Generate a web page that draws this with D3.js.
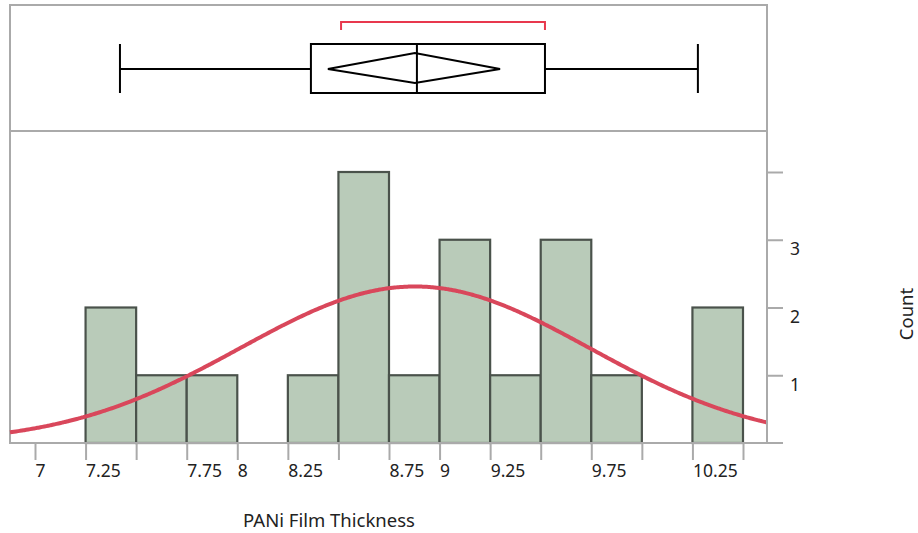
<!DOCTYPE html>
<html>
<head>
<meta charset="utf-8">
<script src="https://cdn.jsdelivr.net/npm/d3@7"></script>
<style>
body { margin: 0; background: #fff; }
text { font-family: "Noto Sans", "Open Sans", sans-serif; fill: #222; }
</style>
</head>
<body>
<script>
// histogram bins (left edges, width 0.25) and counts
var binStarts = [7.25, 7.5, 7.75, 8, 8.25, 8.5, 8.75, 9, 9.25, 9.5, 9.75, 10, 10.25];
var binCounts = [2, 1, 1, 0, 1, 4, 1, 3, 1, 3, 1, 0, 2];
var binWidth = 0.25;

// x ticks and which ones carry a label
var xTicks = [7, 7.25, 7.5, 7.75, 8, 8.25, 8.5, 8.75, 9, 9.25, 9.5, 9.75, 10, 10.25, 10.5];
var xLabels = ["7", "7.25", "", "7.75", "8", "8.25", "", "8.75", "9", "9.25", "", "9.75", "", "10.25", ""];
var yTicks = [1, 2, 3, 4];
var yLabels = ["1", "2", "3", ""];

// box plot: min, q1, median, q3, max
var boxStats = [7.42, 8.364, 8.888, 9.521, 10.277];
// mean diamond: lower CI, mean, upper CI
var meanDiamond = [8.448, 8.878, 9.299];
// shortest half bracket
var shortestHalf = [8.513, 9.521];

// normal fit
var fitMean = 8.878, fitSd = 0.8635, nObs = 20;

var width = 918, height = 533;
var svg = d3.select("body").append("svg")
	.attr("width", width)
	.attr("height", height);

var x = d3.scaleLinear()
	.domain([7, 10.5])
	.range([35, 743]);

var y = d3.scaleLinear()
	.domain([0, 4])
	.range([443, 172]);

var left = 10, right = 767, topBox = 5, midLine = 131, bottom = 443;
var frameColor = "#aaaaaa";

// box panel frame
svg.append("rect")
	.attr("x", left).attr("y", topBox)
	.attr("width", right - left).attr("height", midLine - topBox)
	.attr("fill", "none").attr("stroke", frameColor).attr("stroke-width", 2);

// histogram panel left border
svg.append("line")
	.attr("x1", left).attr("x2", left).attr("y1", midLine).attr("y2", bottom)
	.attr("stroke", frameColor).attr("stroke-width", 2);

// bars
svg.selectAll("rect.bar")
	.data(binStarts)
	.enter()
	.filter((d, i) => binCounts[i] > 0)
	.append("rect")
	.attr("class", "bar")
	.attr("x", (d) => x(d))
	.attr("width", (d) => x(d + binWidth) - x(d))
	.attr("y", (d) => y(binCounts[binStarts.indexOf(d)]))
	.attr("height", (d) => y(0) - y(binCounts[binStarts.indexOf(d)]))
	.attr("fill", "#b9cbb9")
	.attr("stroke", "#4a524b")
	.attr("stroke-width", 2.2);

// normal curve
var curveX = d3.range(x.invert(left), x.invert(right) + 0.001, 0.01);
var line = d3.line()
	.x((d) => x(d))
	.y((d) => y(nObs * binWidth / (fitSd * Math.sqrt(2 * Math.PI)) * Math.exp(-0.5 * Math.pow((d - fitMean) / fitSd, 2))))
	.curve(d3.curveBasis);
svg.append("path")
	.datum(curveX)
	.attr("d", line)
	.attr("fill", "none")
	.attr("stroke", "#d9475b")
	.attr("stroke-width", 4);

// bottom axis
var bottomAxis = d3.axisBottom(x)
	.tickValues(xTicks)
	.tickSize(17)
	.tickFormat((d, i) => xLabels[i]);
var gx = svg.append("g")
	.attr("class", "bottom axis")
	.attr("transform", "translate(0," + bottom + ")")
	.call(bottomAxis);
gx.select(".domain").remove();
gx.selectAll("line").attr("stroke", frameColor).attr("stroke-width", 2);
gx.selectAll("text")
	.attr("text-anchor", "start")
	.attr("x", 0)
	.attr("y", 34)
	.attr("dy", 0)
	.attr("font-size", "17.5px")
	.style("font-family", "'Noto Sans', sans-serif")
	.attr("fill", "#222");

svg.append("line")
	.attr("x1", left - 1).attr("x2", 783).attr("y1", bottom).attr("y2", bottom)
	.attr("stroke", frameColor).attr("stroke-width", 2);

// right axis
var rightAxis = d3.axisRight(y)
	.tickValues(yTicks)
	.tickSize(16)
	.tickFormat((d, i) => yLabels[i]);
var gy = svg.append("g")
	.attr("class", "right axis")
	.attr("transform", "translate(" + right + ",0)")
	.call(rightAxis);
gy.select(".domain").remove();
gy.selectAll("line").attr("stroke", frameColor).attr("stroke-width", 2);
gy.selectAll("text")
	.attr("x", 23)
	.attr("dy", 0)
	.attr("y", 15)
	.attr("font-size", "17.5px")
	.style("font-family", "'Noto Sans', sans-serif")
	.attr("fill", "#222");

svg.append("line")
	.attr("x1", right).attr("x2", right).attr("y1", topBox - 1).attr("y2", bottom + 1)
	.attr("stroke", frameColor).attr("stroke-width", 2);

// box plot
var boxTop = 44, boxBottom = 93, boxMid = 69;
var bp = svg.append("g").attr("stroke", "#000").attr("stroke-width", 2).attr("fill", "none");
bp.append("line")
	.attr("x1", x(boxStats[0])).attr("x2", x(boxStats[1]))
	.attr("y1", boxMid).attr("y2", boxMid);
bp.append("line")
	.attr("x1", x(boxStats[3])).attr("x2", x(boxStats[4]))
	.attr("y1", boxMid).attr("y2", boxMid);
[boxStats[0], boxStats[4]].forEach((v) => {
	bp.append("line")
		.attr("x1", x(v)).attr("x2", x(v))
		.attr("y1", boxTop).attr("y2", boxBottom);
});
bp.append("rect")
	.attr("x", x(boxStats[1])).attr("y", boxTop)
	.attr("width", x(boxStats[3]) - x(boxStats[1]))
	.attr("height", boxBottom - boxTop);
bp.append("line")
	.attr("x1", x(boxStats[2])).attr("x2", x(boxStats[2]))
	.attr("y1", boxTop).attr("y2", boxBottom);
bp.append("path")
	.attr("d", "M" + x(meanDiamond[0]) + "," + boxMid +
		"L" + x(meanDiamond[1]) + "," + (boxMid - 16) +
		"L" + x(meanDiamond[2]) + "," + boxMid +
		"L" + x(meanDiamond[1]) + "," + (boxMid + 14) + "Z");

// shortest half bracket
svg.append("path")
	.attr("d", "M" + x(shortestHalf[0]) + ",30V22H" + x(shortestHalf[1]) + "V30")
	.attr("fill", "none")
	.attr("stroke", "#e8384d")
	.attr("stroke-width", 2);

// axis labels
svg.append("text")
	.attr("x", 329)
	.attr("y", 527)
	.attr("text-anchor", "middle")
	.attr("font-size", "18.5px")
	.text("PANi Film Thickness");

svg.append("text")
	.attr("transform", "translate(913,314) rotate(-90)")
	.attr("text-anchor", "middle")
	.attr("font-size", "18.5px")
	.text("Count");
</script>
</body>
</html>
